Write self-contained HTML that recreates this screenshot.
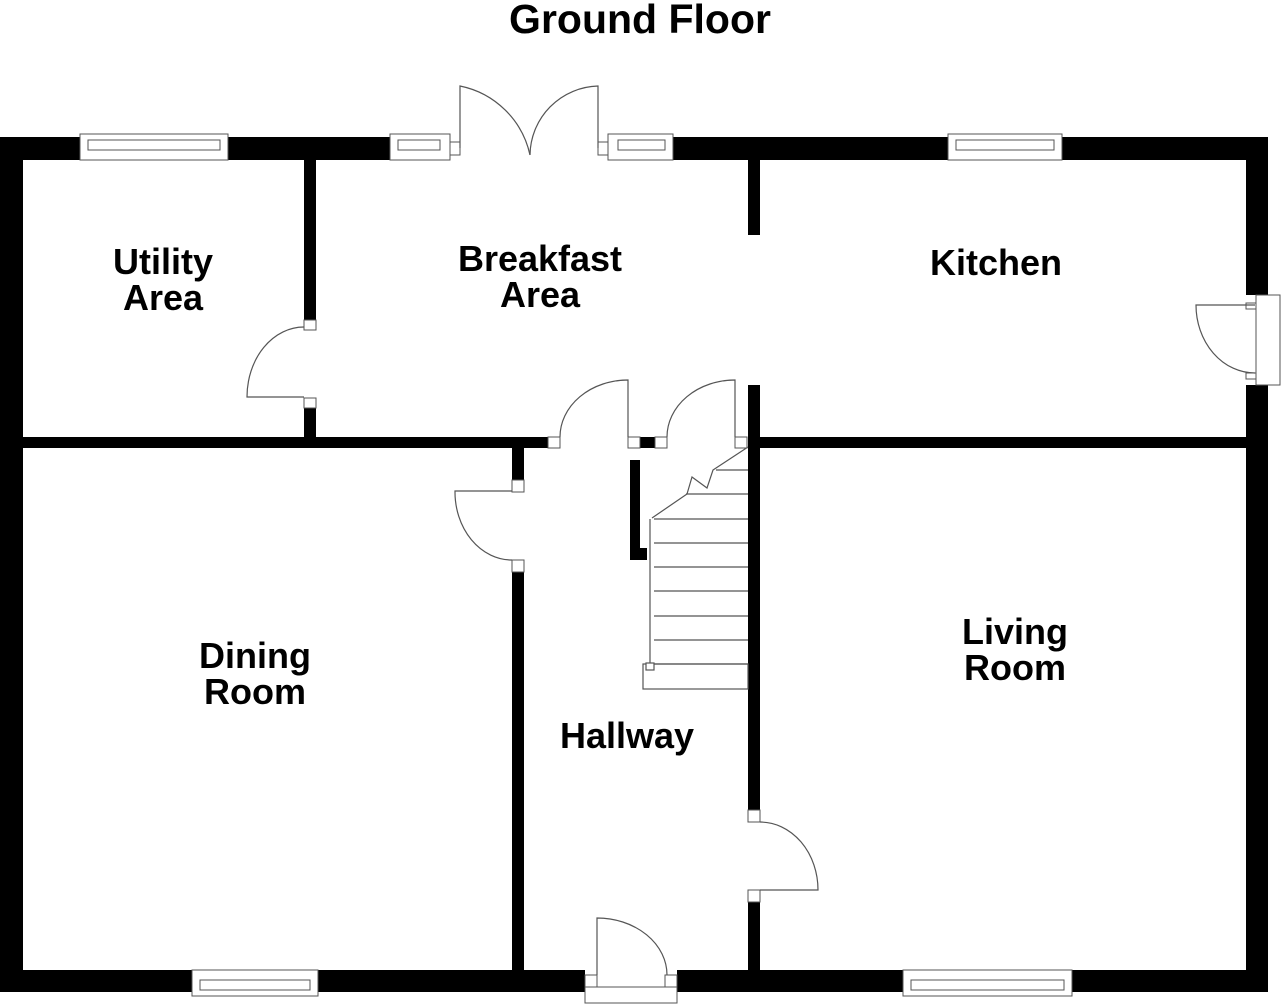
<!DOCTYPE html>
<html><head><meta charset="utf-8"><style>
html,body{margin:0;padding:0;background:#fff;}
svg{display:block;}
text{font-family:"Liberation Sans",sans-serif;font-weight:bold;fill:#000;}
</style></head><body>
<svg width="1288" height="1008" viewBox="0 0 1288 1008" xmlns="http://www.w3.org/2000/svg">
<text x="640" y="33" font-size="41" text-anchor="middle">Ground Floor</text>
<g fill="#000">
<rect x="0" y="137" width="80" height="23"/>
<rect x="228" y="137" width="162" height="23"/>
<rect x="673" y="137" width="275" height="23"/>
<rect x="1062" y="137" width="206" height="23"/>
<rect x="0" y="137" width="23" height="855"/>
<rect x="1246" y="137" width="22" height="158"/>
<rect x="1246" y="385" width="22" height="607"/>
<rect x="0" y="970" width="192" height="22"/>
<rect x="318" y="970" width="267" height="22"/>
<rect x="677" y="970" width="226" height="22"/>
<rect x="1072" y="970" width="196" height="22"/>
<rect x="304" y="160" width="12" height="160"/>
<rect x="304" y="398" width="12" height="40"/>
<rect x="23" y="437" width="525" height="11"/>
<rect x="640" y="437" width="15" height="11"/>
<rect x="760" y="437" width="486" height="11"/>
<rect x="748" y="160" width="12" height="75"/>
<rect x="748" y="385" width="12" height="425"/>
<rect x="748" y="900" width="12" height="70"/>
<rect x="512" y="448" width="12" height="32"/>
<rect x="512" y="572" width="12" height="398"/>
<rect x="630" y="460" width="10" height="100"/>
<rect x="630" y="548" width="17" height="12"/>
</g>
<g fill="#fff" stroke="#555" stroke-width="1">
<rect x="548" y="437" width="12" height="11"/><rect x="628" y="437" width="12" height="11"/>
<rect x="655" y="437" width="12" height="11"/><rect x="735" y="437" width="12" height="11"/>
<rect x="512" y="480" width="12" height="12"/><rect x="512" y="560" width="12" height="12"/>
<rect x="304" y="320" width="12" height="10"/><rect x="304" y="398" width="12" height="10"/>
<rect x="748" y="810" width="12" height="12"/><rect x="748" y="890" width="12" height="12"/>
<rect x="450" y="142" width="10" height="13"/><rect x="598" y="142" width="10" height="13"/>
<rect x="80" y="134" width="148" height="26"/><rect x="88" y="140" width="132" height="10"/>
<rect x="390" y="134" width="60" height="26"/><rect x="398" y="140" width="42" height="10"/>
<rect x="608" y="134" width="65" height="26"/><rect x="618" y="140" width="47" height="10"/>
<rect x="948" y="134" width="114" height="26"/><rect x="956" y="140" width="98" height="10"/>
<rect x="192" y="970" width="126" height="26"/><rect x="200" y="980" width="110" height="10"/>
<rect x="903" y="970" width="169" height="26"/><rect x="911" y="980" width="153" height="10"/>
<rect x="585" y="987" width="92" height="16"/>
<rect x="585" y="975" width="12" height="12"/><rect x="665" y="975" width="12" height="12"/>
<rect x="1256" y="295" width="24" height="90"/>
<rect x="1246" y="303" width="10" height="6"/><rect x="1246" y="373" width="10" height="6"/>
</g>
<g fill="none" stroke="#555" stroke-width="1.2">
<path d="M460 148 V86 A90 90 0 0 1 530 155"/>
<path d="M598 148 V86 A70 70 0 0 0 530 155"/>
<path d="M304 327 A57 70 0 0 0 247 397 H304"/>
<path d="M560 437 A68 57 0 0 1 628 380 V437"/>
<path d="M667 437 A68 57 0 0 1 735 380 V437"/>
<path d="M512 491 H455 A57 68 0 0 0 512 560"/>
<path d="M760 822 A58 68 0 0 1 818 890 H760"/>
<path d="M597 975 V918 A70 57 0 0 1 667 975"/>
<path d="M1255 305 H1196 A59 68 0 0 0 1255 373"/>
<path d="M748 447 L713 470 L707 488 L692 477 L687 494 L652 518"/>
<path d="M716 470 H748 M686 494 H748"/>
<path d="M650 519 V664"/>
<path d="M654 519 H748 M654 543 H748 M654 567 H748 M654 591 H748 M654 616 H748 M654 640 H748 M654 664 H748"/>
<rect x="643" y="664" width="105" height="25"/>
<rect x="646" y="663" width="8" height="7" fill="#fff"/>
</g>
<g font-size="36" text-anchor="middle">
<text x="163" y="274">Utility</text><text x="163" y="310">Area</text>
<text x="540" y="271">Breakfast</text><text x="540" y="307">Area</text>
<text x="996" y="275">Kitchen</text>
<text x="255" y="668">Dining</text><text x="255" y="704">Room</text>
<text x="627" y="748">Hallway</text>
<text x="1015" y="644">Living</text><text x="1015" y="680">Room</text>
</g>
</svg>
</body></html>
